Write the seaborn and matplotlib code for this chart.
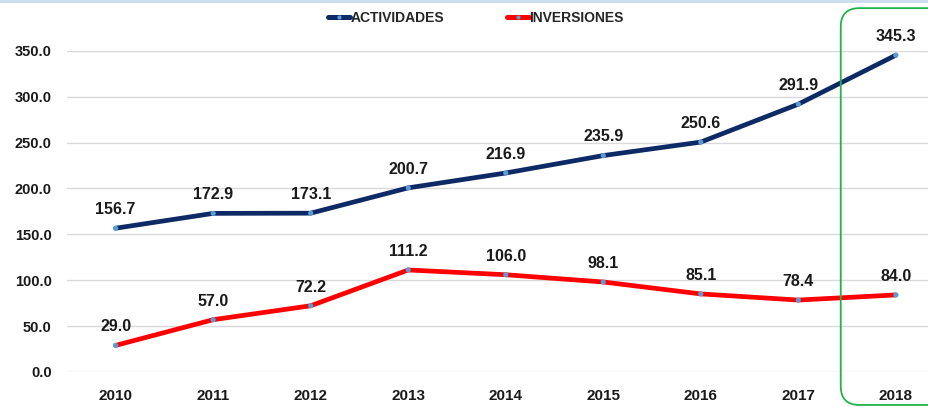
import seaborn as sns
import matplotlib.pyplot as plt
import pandas as pd
from matplotlib.lines import Line2D
from matplotlib.patches import FancyBboxPatch

# datos
years = ['2010', '2011', '2012', '2013', '2014', '2015', '2016', '2017', '2018']
actividades = [156.7, 172.9, 173.1, 200.7, 216.9, 235.9, 250.6, 291.9, 345.3]
inversiones = [29.0, 57.0, 72.2, 111.2, 106.0, 98.1, 85.1, 78.4, 84.0]

df = pd.DataFrame({'year': years, 'ACTIVIDADES': actividades, 'INVERSIONES': inversiones})
df['pos'] = range(len(years))
long = df.melt(id_vars=['year', 'pos'], value_vars=['ACTIVIDADES', 'INVERSIONES'],
               var_name='serie', value_name='valor')

sns.set_style('white')
plt.rcParams['font.family'] = ['Liberation Sans', 'DejaVu Sans']

colores = {'ACTIVIDADES': '#0E2A66', 'INVERSIONES': '#FF0000'}

fig = plt.figure(figsize=(9.29, 4.07), dpi=100)
ax = fig.add_axes([0.072, 0.086, 0.928, 0.789])

sns.lineplot(data=long, x='pos', y='valor', hue='serie', palette=colores,
             linewidth=3.4, legend=False, ax=ax, solid_capstyle='round')
sns.scatterplot(data=long, x='pos', y='valor', color='#5B9BD5', s=14,
                edgecolor='none', legend=False, ax=ax, zorder=5)

# etiquetas de datos
for serie in ['ACTIVIDADES', 'INVERSIONES']:
    for p, v in zip(df['pos'], df[serie]):
        ax.annotate(f'{v:.1f}', (p, v), xytext=(0, 8), textcoords='offset points',
                    ha='center', va='bottom', fontsize=11.5, fontweight='bold',
                    color='#1a1a1a', annotation_clip=False)

ax.set_ylim(0, 350)
ax.set_xlim(-0.5, 8.34)
ax.set_yticks(range(0, 351, 50))
ax.set_yticklabels([f'{t:.1f}' for t in range(0, 351, 50)])
ax.set_xticks(df['pos'])
ax.set_xticklabels(years)
ax.tick_params(axis='both', length=0, labelcolor='#1a1a1a')
ax.tick_params(axis='x', pad=12, labelsize=11)
ax.tick_params(axis='y', pad=11, labelsize=10.5)
for lab in ax.get_xticklabels() + ax.get_yticklabels():
    lab.set_fontweight('bold')
ax.yaxis.grid(True, color='#D9D9D9', linewidth=1)
ax.set_axisbelow(True)
sns.despine(ax=ax, left=True, bottom=True)
ax.set_xlabel('')
ax.set_ylabel('')

# leyenda
handles = [Line2D([], [], color=colores[s], linewidth=3.6, marker='o', markersize=3,
                  markerfacecolor='#5B9BD5', markeredgecolor='none') for s in colores]
leg = fig.legend(handles, list(colores), loc='center', bbox_to_anchor=(0.512, 0.955),
                 ncol=2, frameon=False, handlelength=1.6, handletextpad=0.0,
                 columnspacing=4.5, prop={'weight': 'bold', 'size': 10})

# recuadro verde 2018
box = FancyBboxPatch((0.905, 0.005), 0.12, 0.975, transform=fig.transFigure,
                     boxstyle='round,pad=0,rounding_size=0.02', fill=False,
                     edgecolor='#22B24C', linewidth=1.3, clip_on=False,
                     mutation_aspect=2.3)
fig.patches.append(box)

# borde superior
fig.add_artist(Line2D([0, 1], [0.997, 0.997], color='#C9DCEE', linewidth=2,
                      transform=fig.transFigure))

fig.savefig('out.png', dpi=100)
